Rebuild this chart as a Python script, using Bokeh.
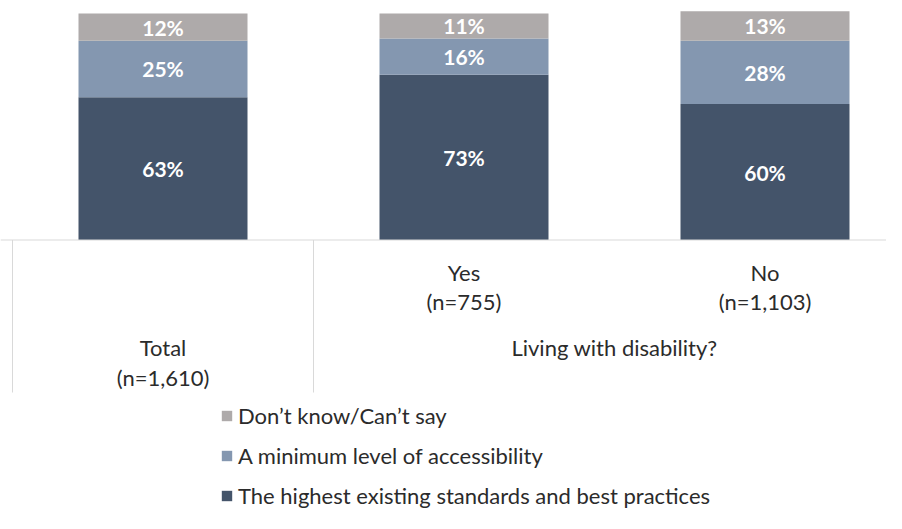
from bokeh.plotting import figure
from bokeh.models import Range1d, ColumnDataSource, Legend, LegendItem, Span
from bokeh.core.properties import value
from bokeh.embed import file_html
from bokeh.resources import INLINE

# ---------------- data ----------------
categories = ["Total", "Yes", "No"]
sample_sizes = ["(n=1,610)", "(n=755)", "(n=1,103)"]
group_label = "Living with disability?"
series_names = [
    "The highest existing standards and best practices",
    "A minimum level of accessibility",
    "Don\u2019t know/Can\u2019t say",
]
highest = [63, 73, 60]
minimum = [25, 16, 28]
dont_know = [12, 11, 13]
colors = ["#44546a", "#8497b0", "#aeaaaa"]

# ---------------- layout constants (pixels) ----------------
W, H = 886, 513
X0_PX = 12.0       # left edge of first category (px from left)
CAT_PX = 301.0     # width of one category (px)
Y0_PX = 239.5      # bar baseline (px from top)
PCT_PX = 2.265     # px per percentage point
FONT = "Lato"
FS = "22px"
TXT = "#2b2b2b"


def ypx(py):
    """convert a px-from-top position to a data y value"""
    return (Y0_PX - py) / PCT_PX


x_range = Range1d(-X0_PX / CAT_PX, (W - X0_PX) / CAT_PX)
y_range = Range1d(ypx(H), ypx(0))

p = figure(width=W, height=H, x_range=x_range, y_range=y_range,
           output_backend="svg", toolbar_location=None,
           x_axis_type=None, y_axis_type=None, min_border=0)
p.outline_line_color = None
p.background_fill_color = "white"
p.border_fill_color = "white"

xs = [i + 0.5 for i in range(len(categories))]
keys = ["highest", "minimum", "dont_know"]
src = ColumnDataSource(dict(x=xs, highest=highest, minimum=minimum, dont_know=dont_know))

# axis baseline
p.add_layout(Span(location=0, dimension="width", line_color="#d9d9d9", line_width=1))

renderers = p.vbar_stack(keys, x="x", width=169 / CAT_PX, source=src,
                         color=colors, line_color=None)

# bar value labels at segment centres
lx, ly, lt = [], [], []
for i in range(len(categories)):
    base = 0
    for vals in (highest, minimum, dont_know):
        v = vals[i]
        lx.append(xs[i])
        ly.append(base + v / 2)
        lt.append(f"{v}%")
        base += v
p.text(x=lx, y=ly, text=lt, text_color="white", text_font=value(FONT),
       text_font_size="21px", text_font_style="bold",
       text_align="center", text_baseline="middle")

# category dividers (multi-level axis look)
p.segment(x0=[0, 1], y0=[0, 0], x1=[0, 1], y1=[ypx(392), ypx(392)],
          line_color="#d9d9d9", line_width=1)

txt_kw = dict(text_color=TXT, text_font=value(FONT), text_font_size=FS,
              text_align="center", text_baseline="middle")
# sub-category labels (Yes / No)
p.text(x=xs[1:], y=[ypx(272)] * 2, text=categories[1:], **txt_kw)
p.text(x=xs[1:], y=[ypx(301)] * 2, text=sample_sizes[1:], **txt_kw)
# Total label (outer level)
p.text(x=[xs[0]], y=[ypx(347)], text=[categories[0]], **txt_kw)
p.text(x=[xs[0]], y=[ypx(377)], text=[sample_sizes[0]], **txt_kw)
# group label
p.text(x=[(xs[1] + xs[2]) / 2], y=[ypx(347)], text=[group_label], **txt_kw)

# legend (reverse order, like the original)
items = [LegendItem(label=series_names[k], renderers=[renderers[k]]) for k in (2, 1, 0)]
legend = Legend(items=items, location=(220, 4), orientation="vertical",
                label_text_font=FONT, label_text_font_size=FS,
                label_text_color=TXT, glyph_width=13, glyph_height=13,
                label_standoff=5, spacing=13, label_height=26,
                padding=0, margin=0, border_line_color=None,
                background_fill_alpha=0)
p.add_layout(legend)

open("out.html", "w").write(file_html(p, INLINE))
